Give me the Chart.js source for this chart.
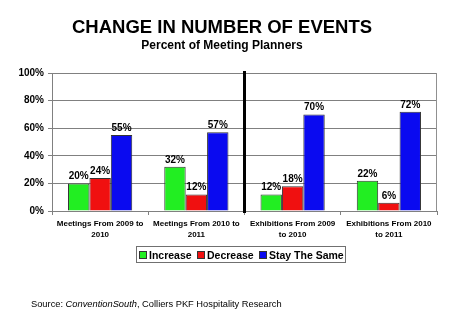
<!DOCTYPE html>
<html>
<head>
<meta charset="utf-8">
<script src="https://cdn.jsdelivr.net/npm/chart.js@4"></script>
<style>
    html, body { margin: 0; padding: 0; background: #fff; }
    #chart { display: block; }
</style>
</head>
<body>
<canvas id="chart" width="465" height="328"></canvas>
<script>
// valores
const categorias = [
    ['Meetings From 2009 to', '2010'],
    ['Meetings From 2010 to', '2011'],
    ['Exhibitions From 2009', 'to 2010'],
    ['Exhibitions From 2010', 'to 2011']
];
const aumento = [20, 32, 12, 22];
const diminuicao = [24, 12, 18, 6];
const igual = [55, 57, 70, 72];
const ticksY = [0, 20, 40, 60, 80, 100];
const nomesSeries = ['Increase', 'Decrease', 'Stay The Same'];
const cores = ['#22ee22', '#f01010', '#0a0af0'];

const FONTE = '"Liberation Sans", Arial, sans-serif';

const extras = {
    id: 'extras',
    afterDatasetsDraw(chart) {
        const ctx = chart.ctx;
        const area = chart.chartArea;
        const x = chart.scales.x;

        // rótulos de valor
        ctx.save();
        ctx.font = 'bold 10px ' + FONTE;
        ctx.fillStyle = '#000';
        ctx.textAlign = 'center';
        ctx.textBaseline = 'alphabetic';
        chart.data.datasets.forEach((ds, i) => {
            chart.getDatasetMeta(i).data.forEach((bar, j) => {
                ctx.fillText(ds.data[j] + '%', bar.x, bar.y - 4);
            });
        });
        ctx.restore();

        // borda direita
        ctx.save();
        ctx.strokeStyle = '#909090';
        ctx.lineWidth = 1;
        ctx.beginPath();
        ctx.moveTo(Math.round(area.right) - 0.5, area.top);
        ctx.lineTo(Math.round(area.right) - 0.5, area.bottom);
        ctx.stroke();

        // linha separando reuniões e exposições
        const meio = (x.getPixelForValue(1) + x.getPixelForValue(2)) / 2;
        ctx.strokeStyle = '#000';
        ctx.lineWidth = 3;
        ctx.beginPath();
        ctx.moveTo(meio, area.top - 2);
        ctx.lineTo(meio, area.bottom + 2);
        ctx.stroke();
        ctx.restore();
    },
    afterDraw(chart) {
        const ctx = chart.ctx;
        ctx.save();
        ctx.fillStyle = '#000';
        ctx.textAlign = 'center';
        ctx.font = 'bold 18.5px ' + FONTE;
        ctx.fillText('CHANGE IN NUMBER OF EVENTS', 222, 33);
        ctx.font = 'bold 12px ' + FONTE;
        ctx.fillText('Percent of Meeting Planners', 222, 49);

        // legenda
        ctx.strokeStyle = '#707070';
        ctx.lineWidth = 1;
        ctx.strokeRect(136.5, 246.5, 209, 16);
        const posQuadrado = [139, 197, 259];
        ctx.textAlign = 'left';
        ctx.font = 'bold 10.5px ' + FONTE;
        nomesSeries.forEach((nome, i) => {
            ctx.fillStyle = cores[i];
            ctx.fillRect(posQuadrado[i], 251, 8, 8);
            ctx.strokeStyle = '#333';
            ctx.strokeRect(posQuadrado[i] + 0.5, 251.5, 7, 7);
            ctx.fillStyle = '#000';
            ctx.fillText(nome, posQuadrado[i] + 10, 258.5);
        });

        // fonte
        let px = 31;
        const partes = [
            ['Source: ', false],
            ['ConventionSouth', true],
            [', Colliers PKF Hospitality Research', false]
        ];
        partes.forEach(([txt, it]) => {
            ctx.font = (it ? 'italic ' : '') + '9.3px ' + FONTE;
            ctx.fillText(txt, px, 307);
            px += ctx.measureText(txt).width;
        });
        ctx.restore();
    }
};

new Chart(document.getElementById('chart'), {
    type: 'bar',
    data: {
        labels: categorias,
        datasets: [
            { label: nomesSeries[0], data: aumento, backgroundColor: cores[0] },
            { label: nomesSeries[1], data: diminuicao, backgroundColor: cores[1] },
            { label: nomesSeries[2], data: igual, backgroundColor: cores[2] }
        ].map(d => Object.assign(d, { borderColor: '#333', borderWidth: 1, borderSkipped: 'bottom' }))
    },
    options: {
        responsive: false,
        devicePixelRatio: 1,
        animation: false,
        layout: { padding: { top: 73, right: 28, bottom: 87, left: 0 } },
        plugins: {
            legend: { display: false },
            tooltip: { enabled: false }
        },
        datasets: {
            bar: { categoryPercentage: 0.667, barPercentage: 1 }
        },
        scales: {
            x: {
                afterFit(s) { s.height = 30; },
                grid: { offset: true, drawOnChartArea: false, drawTicks: true, tickLength: 4, color: '#808080' },
                border: { color: '#808080' },
                ticks: {
                    color: '#000',
                    font: { family: FONTE, size: 8, weight: 'bold', lineHeight: 1.4 },
                    padding: 3,
                    maxRotation: 0,
                    autoSkip: false
                }
            },
            y: {
                min: 0,
                max: 100,
                afterFit(s) { s.width = 52; },
                afterBuildTicks(s) { s.ticks = ticksY.map(v => ({ value: v })); },
                grid: { color: '#808080', tickLength: 4 },
                border: { color: '#808080' },
                ticks: {
                    color: '#000',
                    padding: 4,
                    font: { family: FONTE, size: 10, weight: 'bold' },
                    callback: v => v + '%'
                }
            }
        }
    },
    plugins: [extras]
});
</script>
</body>
</html>
